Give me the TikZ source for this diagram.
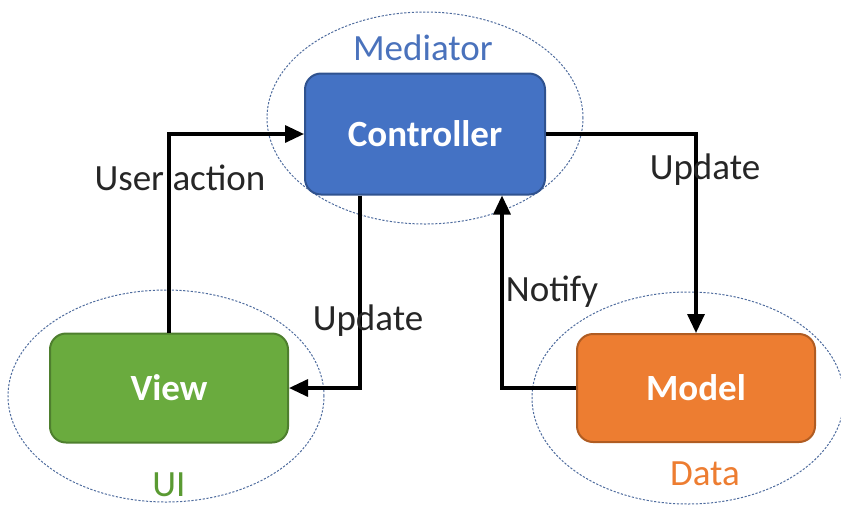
\documentclass[tikz,border=0pt]{standalone}
\usepackage{fontspec}
\setmainfont{Carlito}
\usetikzlibrary{shapes.geometric,arrows.meta}
\definecolor{cblue}{HTML}{4472C4}
\definecolor{cblueb}{HTML}{2F528F}
\definecolor{cgreen}{HTML}{6AAB3E}
\definecolor{cgreenb}{HTML}{4E7F2E}
\definecolor{corange}{HTML}{ED7D31}
\definecolor{coranb}{HTML}{B05C22}
\definecolor{ell}{HTML}{4F6C9E}
\definecolor{medtxt}{HTML}{4A72BC}
\definecolor{uitxt}{HTML}{5A9A32}
\tikzset{
  x=1pt,y=-1pt,
  box/.style={rectangle,rounded corners=16pt,line width=2pt,text=white,font=\fontsize{37}{40}\selectfont\bfseries,inner sep=0pt},
  grp/.style={ellipse,draw=ell,dash pattern=on 2.2pt off 1.6pt,line width=1pt,inner sep=0pt},
  conn/.style={line width=3.3pt,-{Triangle[length=19pt,width=17pt]}},
  lbl/.style={font=\fontsize{37}{40}\selectfont,text=black!85,inner sep=0pt},
  grplbl/.style={font=\fontsize{37}{40}\selectfont,inner sep=0pt}
}
\begin{document}
\begin{tikzpicture}
\useasboundingbox (0,0) rectangle (841,507);
\node[grp,minimum width=316pt,minimum height=212pt] (med) at (425,118) {};
\node[grp,minimum width=316pt,minimum height=212pt] (ui) at (166,396) {};
\node[grp,minimum width=312pt,minimum height=212pt] (data) at (688,398) {};
\node[box,fill=cblue,draw=cblueb,minimum width=240pt,minimum height=121pt] (ctrl) at (425,134) {Controller};
\node[box,fill=cgreen,draw=cgreenb,minimum width=238pt,minimum height=109pt] (view) at (169,388) {View};
\node[box,fill=corange,draw=coranb,minimum width=238pt,minimum height=108pt] (model) at (696,388) {Model};
\node[grplbl,text=medtxt] (medl) at (423,48) {Mediator};
\node[grplbl,text=uitxt] (uil) at (169,485) {UI};
\node[grplbl,text=corange] (datal) at (705,474) {Data};
\coordinate (cs1) at ([xshift=-65pt]ctrl.south);
\coordinate (cs2) at ([xshift=77pt]ctrl.south);
\draw[conn] (view.north) |- (ctrl.west);
\draw[conn] (cs1) |- (view.east);
\draw[conn] (ctrl.east) -| (model.north);
\draw[conn] (model.west) -| (cs2);
\node[lbl] (l1) at (180,178) {User action};
\node[lbl] (l2) at (705,170) {Update};
\node[lbl] (l3) at (368,321) {Update};
\node[lbl] (l4) at (552,292) {Notify};
\end{tikzpicture}
\end{document}
